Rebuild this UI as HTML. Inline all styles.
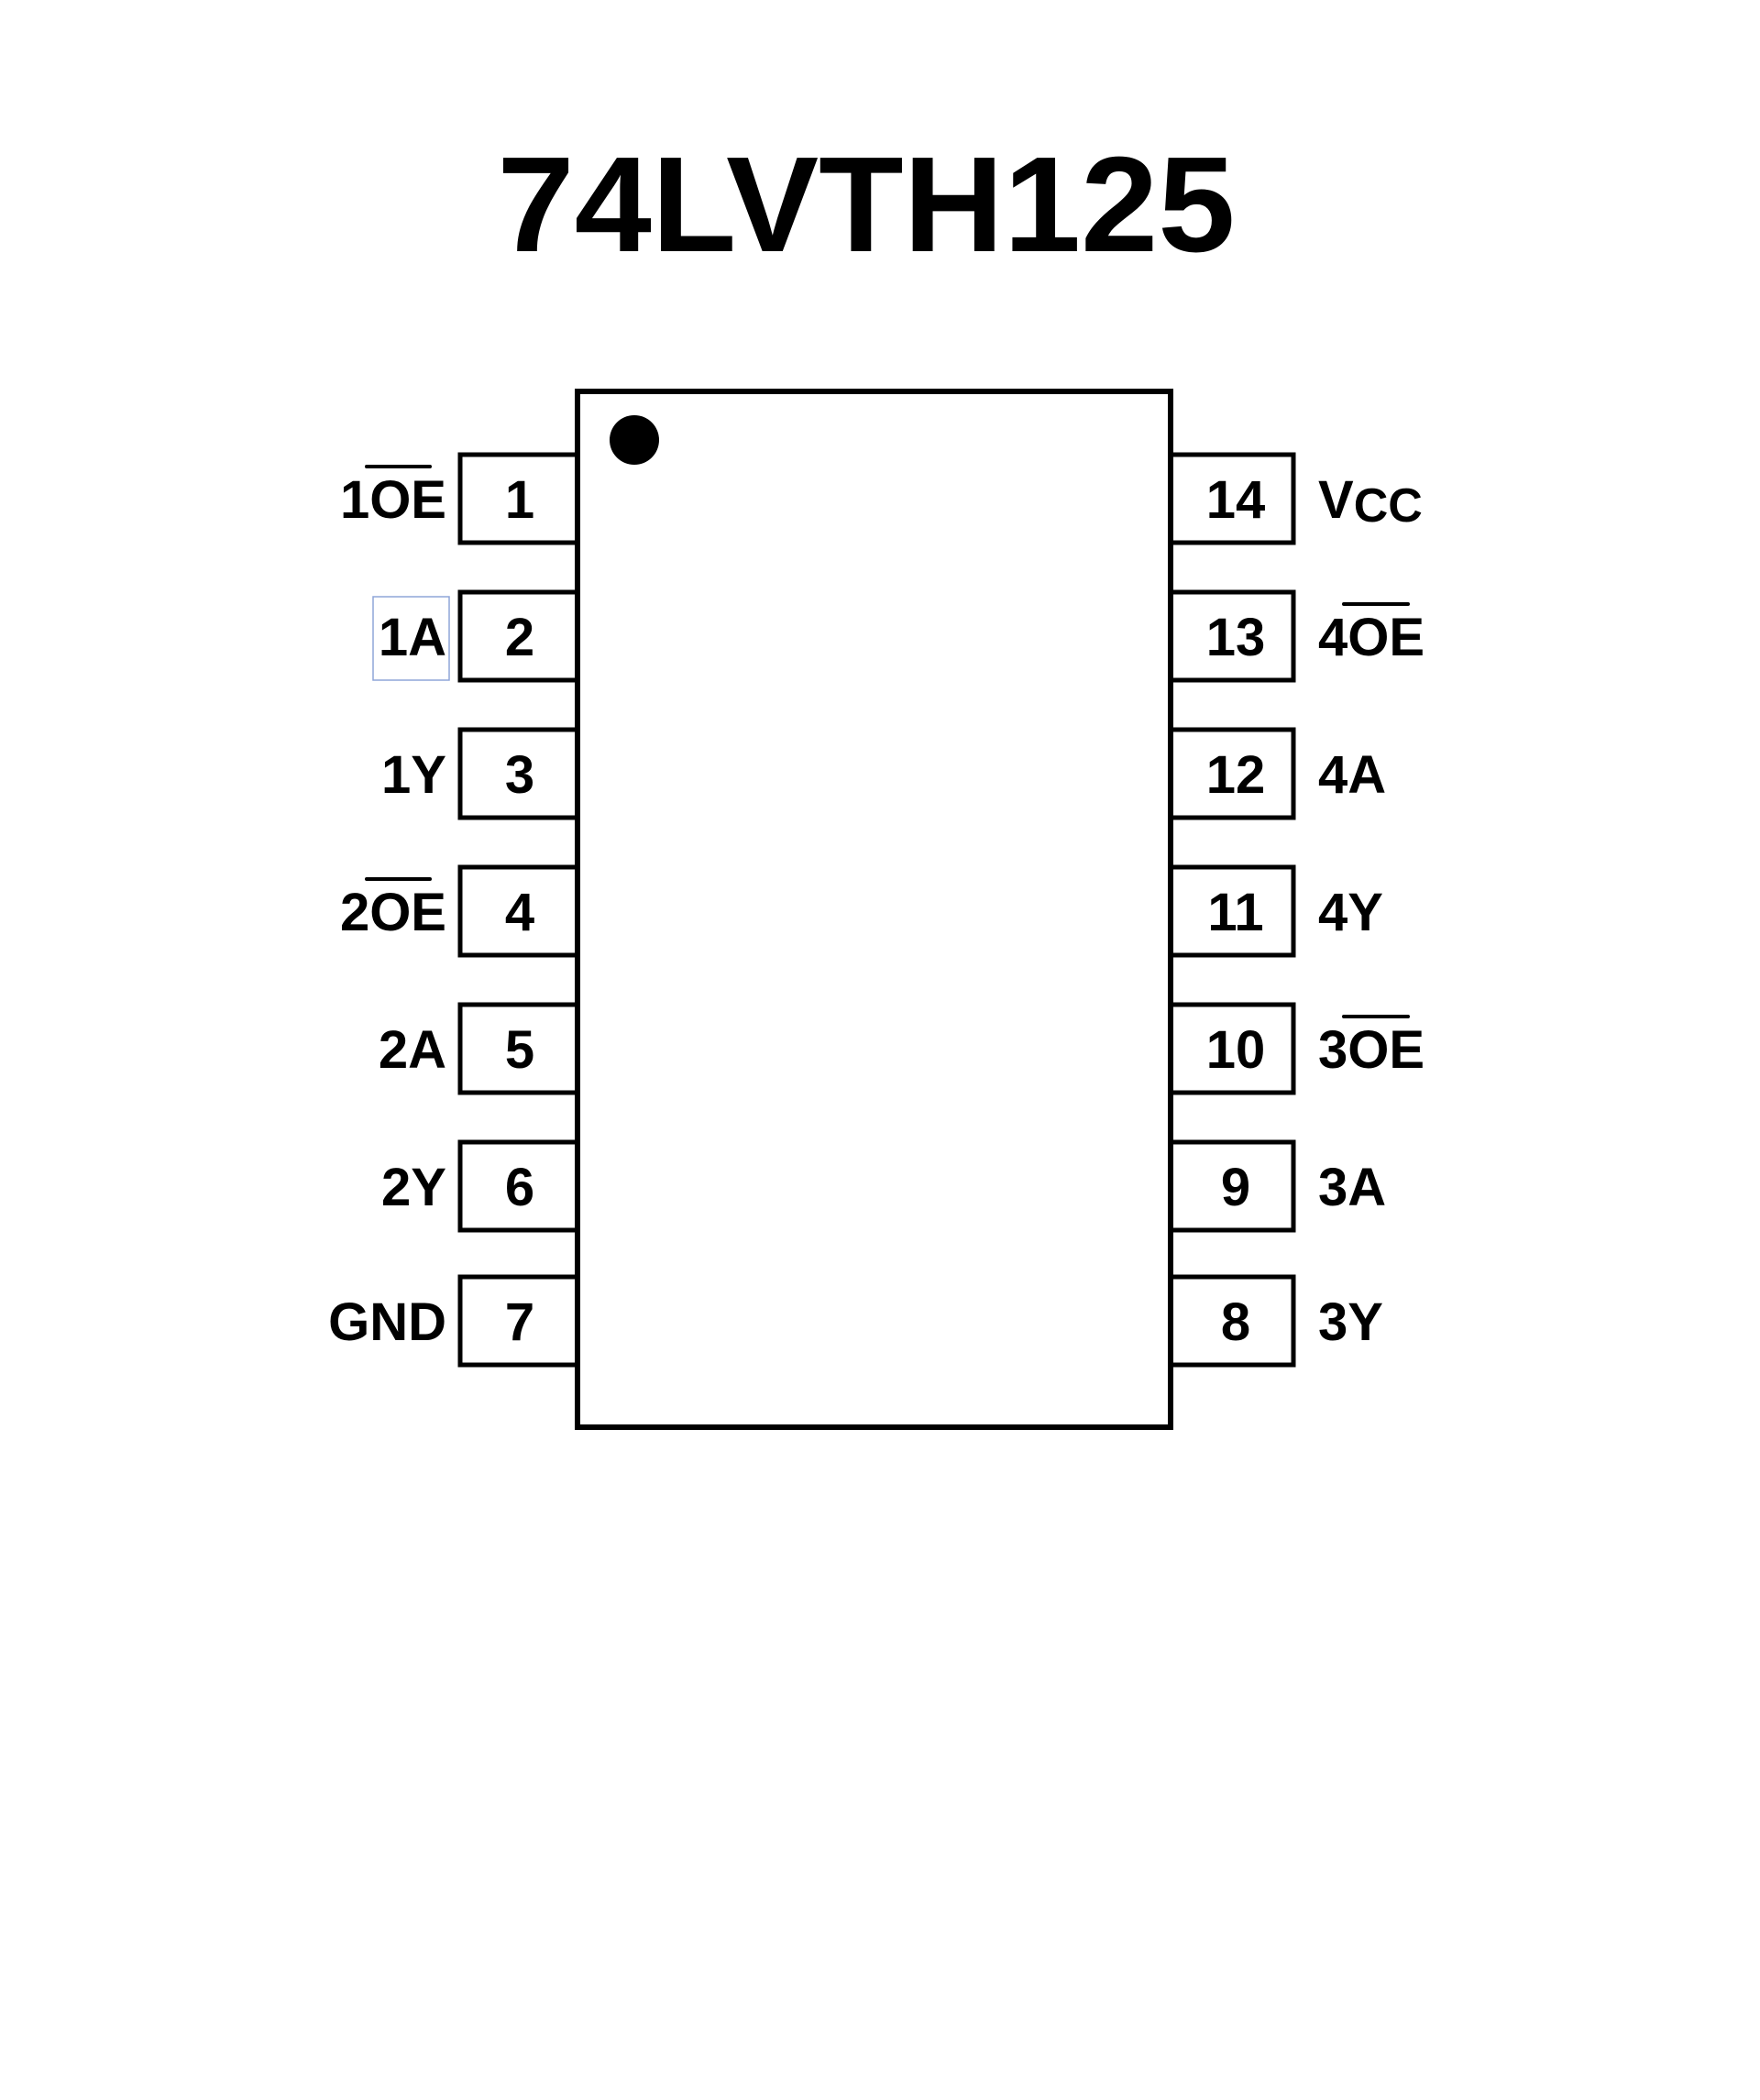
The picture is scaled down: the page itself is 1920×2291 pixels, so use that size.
<!DOCTYPE html>
<html><head><meta charset="utf-8"><style>html,body{margin:0;padding:0;background:#fff}svg{display:block}</style></head>
<body>
<svg width="1920" height="2291" viewBox="0 0 1920 2291" xmlns="http://www.w3.org/2000/svg" font-family="Liberation Sans, Arial, sans-serif" font-weight="bold">
<rect width="1920" height="2291" fill="#fff"/>
<text x="945" y="274" font-size="148" text-anchor="middle" textLength="805" lengthAdjust="spacingAndGlyphs">74LVTH125</text>
<g fill="#fff" stroke="#000" stroke-width="5">
<rect x="502" y="496" width="128" height="96"/>
<rect x="502" y="646" width="128" height="96"/>
<rect x="502" y="796" width="128" height="96"/>
<rect x="502" y="946" width="128" height="96"/>
<rect x="502" y="1096" width="128" height="96"/>
<rect x="502" y="1246" width="128" height="96"/>
<rect x="502" y="1393" width="128" height="96"/>
<rect x="1277" y="496" width="134" height="96"/>
<rect x="1277" y="646" width="134" height="96"/>
<rect x="1277" y="796" width="134" height="96"/>
<rect x="1277" y="946" width="134" height="96"/>
<rect x="1277" y="1096" width="134" height="96"/>
<rect x="1277" y="1246" width="134" height="96"/>
<rect x="1277" y="1393" width="134" height="96"/>
<rect x="630" y="427" width="647" height="1130" stroke-width="6"/>
</g>
<circle cx="692" cy="480" r="27" fill="#000"/>
<rect x="407" y="651" width="83" height="91" fill="none" stroke="#8fa5d8" stroke-width="1.5"/>
<g font-size="58" text-anchor="middle">
<text x="567" y="565">1</text><text x="567" y="715">2</text><text x="567" y="865">3</text>
<text x="567" y="1015">4</text><text x="567" y="1165">5</text><text x="567" y="1315">6</text>
<text x="567" y="1462">7</text>
<text x="1348" y="565">14</text><text x="1348" y="715">13</text><text x="1348" y="865">12</text>
<text x="1348" y="1015">11</text><text x="1348" y="1165">10</text><text x="1348" y="1315">9</text>
<text x="1348" y="1462">8</text>
</g>
<g font-size="58" text-anchor="end">
<text x="487" y="565">1OE</text><text x="487" y="715">1A</text><text x="487" y="865">1Y</text>
<text x="487" y="1015">2OE</text><text x="487" y="1165">2A</text><text x="487" y="1315">2Y</text>
<text x="487" y="1462">GND</text>
</g>
<g font-size="58">
<text x="1438" y="565">V<tspan font-size="52" dy="4">CC</tspan></text>
<text x="1438" y="715">4OE</text><text x="1438" y="865">4A</text><text x="1438" y="1015">4Y</text>
<text x="1438" y="1165">3OE</text><text x="1438" y="1315">3A</text><text x="1438" y="1462">3Y</text>
</g>
<g stroke="#000" stroke-width="4" stroke-linecap="round">
<line x1="400" y1="509" x2="469" y2="509"/>
<line x1="400" y1="959" x2="469" y2="959"/>
<line x1="1466" y1="659" x2="1536" y2="659"/>
<line x1="1466" y1="1109" x2="1536" y2="1109"/>
</g>
</svg>
</body></html>
